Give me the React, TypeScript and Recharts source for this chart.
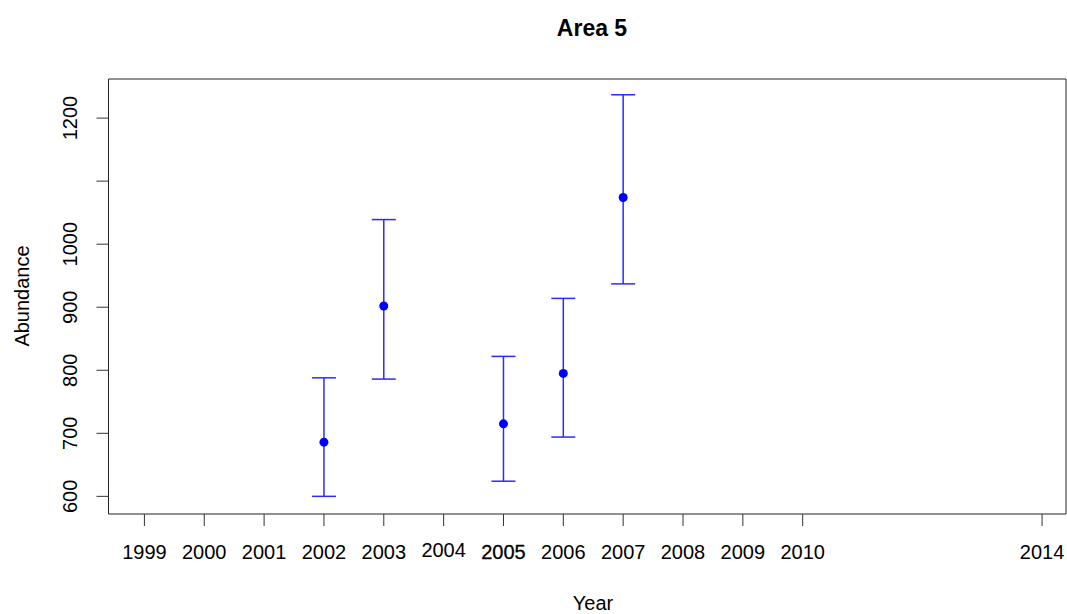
import {
  ScatterChart,
  Scatter,
  XAxis,
  YAxis,
  ErrorBar,
  ReferenceArea,
} from "recharts";

// values
const years = [2002, 2003, 2005, 2006, 2007];
const abundance = [686, 902, 715, 795, 1074];
const lower = [600, 786, 624, 694, 937];
const upper = [788, 1039, 822, 914, 1237];

const xTicks = [1999, 2000, 2001, 2002, 2003, 2004, 2005, 2006, 2007, 2008, 2009, 2010, 2014];
const yTicks = [600, 700, 800, 900, 1000, 1100, 1200];
const yLabelled = [600, 700, 800, 900, 1000, 1200];

const xDomain = [1998.4, 2014.4];
const yDomain = [572, 1262];

const FONT = "'Liberation Sans', Arial, sans-serif";

const data = years.map((year, i) => ({
  year,
  value: abundance[i],
  err: [abundance[i] - lower[i], upper[i] - abundance[i]],
}));

const XTick = (props: any) => {
  const { x, y, payload } = props;
  const v = payload.value;
  return (
    <text
      x={x}
      y={y}
      dy={v === 2004 ? 31 : 33}
      textAnchor="middle"
      fontFamily={FONT}
      fontSize={20}
      fill="#000"
      stroke={v === 2005 ? "#000" : "none"}
      strokeWidth={v === 2005 ? 0.3 : 0}
    >
      {v}
    </text>
  );
};

const YTick = (props: any) => {
  const { x, y, payload } = props;
  if (!yLabelled.includes(payload.value)) return <g />;
  const bx = x - 19.5;
  return (
    <text
      x={bx}
      y={y}
      transform={`rotate(-90, ${bx}, ${y})`}
      textAnchor="middle"
      fontFamily={FONT}
      fontSize={20}
      fill="#000"
    >
      {payload.value}
    </text>
  );
};

export default function App() {
  return (
    <div
      style={{
        position: "absolute",
        left: 0,
        top: 0,
        width: 1067,
        height: 614,
        background: "#fff",
        fontFamily: FONT,
        overflow: "hidden",
      }}
    >
      <div
        style={{
          position: "absolute",
          left: 492,
          width: 200,
          top: 16.5,
          textAlign: "center",
          fontSize: 23,
          lineHeight: 1,
          fontWeight: "bold",
          color: "#000",
        }}
      >
        Area 5
      </div>
      <div
        style={{
          position: "absolute",
          left: 543,
          width: 100,
          top: 593,
          textAlign: "center",
          fontSize: 20,
          lineHeight: 1,
          color: "#000",
        }}
      >
        Year
      </div>
      <div
        style={{
          position: "absolute",
          left: 22,
          top: 296,
          transform: "translate(-50%, -50%) rotate(-90deg)",
          fontSize: 20,
          lineHeight: 1,
          color: "#000",
          whiteSpace: "nowrap",
        }}
      >
        Abundance
      </div>
      <ScatterChart
        width={1067}
        height={614}
        margin={{ top: 79, right: 1, bottom: 40, left: 0 }}
      >
        <XAxis
          type="number"
          dataKey="year"
          domain={xDomain}
          allowDataOverflow
          ticks={xTicks}
          interval={0}
          axisLine={false}
          tickSize={12}
          tickMargin={0}
          tickLine={{ stroke: "#333" }}
          tick={<XTick />}
          height={60}
        />
        <YAxis
          type="number"
          dataKey="value"
          domain={yDomain}
          allowDataOverflow
          ticks={yTicks}
          interval={0}
          axisLine={false}
          tickSize={12}
          tickMargin={0}
          tickLine={{ stroke: "#333" }}
          tick={<YTick />}
          width={108.5}
        />
        <ReferenceArea
          x1={xDomain[0]}
          x2={xDomain[1]}
          y1={yDomain[0]}
          y2={yDomain[1]}
          fill="none"
          fillOpacity={0}
          stroke="#222"
          strokeWidth={1}
          ifOverflow="visible"
        />
        <Scatter
          data={data}
          fill="#0000ff"
          isAnimationActive={false}
          shape={(p: any) => <circle cx={p.cx} cy={p.cy} r={4.5} fill="#0000ff" />}
        >
          <ErrorBar
            dataKey="err"
            direction="y"
            width={12}
            stroke="#2b2bff"
            strokeWidth={1.5}
            isAnimationActive={false}
          />
        </Scatter>
      </ScatterChart>
    </div>
  );
}
